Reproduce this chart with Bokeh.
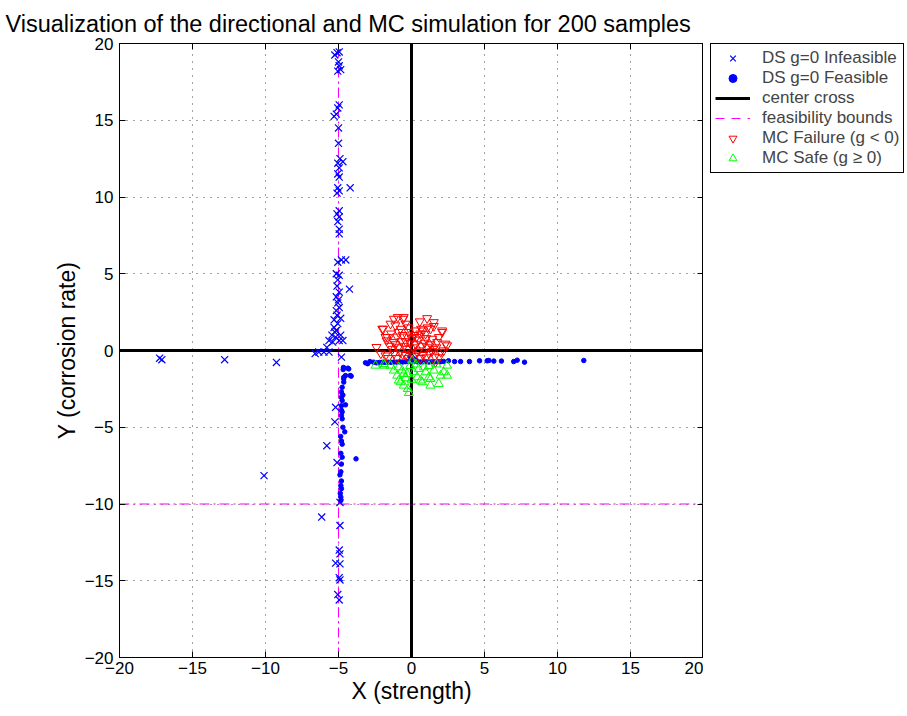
from bokeh.plotting import figure
from bokeh.layouts import row
from bokeh.models import Legend, LegendItem, FixedTicker, LinearAxis, Range1d
from bokeh.embed import file_html
from bokeh.resources import INLINE

# ---- data ----
ds_inf_x = [-5.1, -4.95, -5.25, -5.0, -4.95, -4.85, -5.05,
            -4.95, -5.05, -5.15, -5.3, -5.0, -5.0, -4.9, -4.7, -5.05, -4.95, -5.05, -4.95, -5.05, -4.95, -5.1, -4.2,
            -4.95, -5.1, -4.95, -5.05, -4.95, -4.95,
            -5.05, -4.8, -4.5, -4.25,
            -5.15, -4.95, -5.05, -5.1, -4.95, -5.15, -5.05, -4.95, -5.15, -5.1, -5.3, -5.05, -5.3, -5.15, -5.45, -5.2,
            -4.95, -5.65, -5.4, -4.7, -5.8, -6.35, -6.0, -5.65, -6.6, -4.8, -5.0, -4.85, -5.25, -4.85,
            -17.1, -17.25, -12.8, -9.25,
            -5.2, -5.25, -5.8, -5.1, -4.9, -10.1, -6.15, -4.9, -4.95, -4.9, -5.2, -4.9, -4.95, -4.9, -5.05, -4.95]
ds_inf_y = [19.4, 19.45, 19.25, 18.8, 18.55, 18.3, 18.2,
            16.0, 15.8, 15.4, 15.25, 14.5, 13.5, 12.5, 12.3, 12.2, 11.9, 11.5, 11.3, 10.6, 10.4, 10.25, 10.6,
            9.1, 8.9, 8.7, 8.4, 7.9, 7.6,
            5.75, 5.9, 5.9, 4.0,
            5.0, 4.9, 4.6, 4.2, 3.8, 3.5, 3.1, 2.8, 2.6, 2.3, 2.0, 1.75, 1.5, 1.3, 1.0, 0.87,
            0.65, 0.65, 0.55, 0.65, 0.2, -0.1, -0.1, -0.1, -0.2, -0.43, 3.3, 2.1, 1.2, 1.0,
            -0.6, -0.5, -0.6, -0.78,
            -3.7, -4.65, -6.2, -7.3, -9.9, -8.15, -10.85, -11.4, -13.0, -13.25, -13.85, -13.9, -14.8, -14.95, -15.9, -16.25]

ds_fea_x = [-4.68, -4.36, -4.52, -4.64, -4.64, -4.13, -4.75, -4.8, -4.8, -4.75, -4.52, -4.8, -4.8, -4.75, -4.57,
            -4.8, -4.75, -4.84, -4.75, -4.8, -3.8, -4.84, -4.8, -4.84, -4.88, -4.84, -4.84, -4.66, -4.3, -4.2,
            -4.64, -4.7, -4.85, -4.9, -4.8, -4.7, -4.8, -4.75,
            -3.15, -2.85, -3.0, -2.6, -2.4, -2.2, -2.0, -1.8, -1.6, -1.4, -1.2, -1.0, -0.8, -0.6, -0.4, -0.2,
            0.0, 0.2, 0.4, 0.6, 0.8, 1.0, 1.2, 1.4, 1.6, 1.8, 2.0, 2.2, 2.53, 2.95, 3.36, 3.97, 4.66, 5.18,
            5.3, 5.64, 6.16, 7.0, 7.24, 7.74, 11.8, 0.1, -0.1, 0.3]
ds_fea_y = [-1.24, -1.15, -1.63, -1.85, -2.06, -1.67, -2.4, -2.7, -3.04, -3.26, -3.54, -3.9, -4.23, -4.45, -5.3,
            -5.9, -6.1, -6.7, -6.95, -7.4, -7.06, -7.9, -8.5, -8.8, -9.3, -9.55, -9.77, -1.1, -1.2, -1.63,
            -1.74, -5.0, -5.6, -8.1, -9.0, -2.9, -3.6, -4.0,
            -0.8, -0.72, -0.86, -0.76, -0.8, -0.78, -0.77, -0.78, -0.76, -0.77, -0.75, -0.76, -0.74, -0.75, -0.73, -0.72,
            -0.7, -0.72, -0.74, -0.75, -0.73, -0.74, -0.75, -0.73, -0.74, -0.72, -0.73, -0.71, -0.67, -0.72, -0.72, -0.72, -0.67, -0.67,
            -0.65, -0.69, -0.69, -0.72, -0.63, -0.76, -0.65, -0.5, -0.4, -0.6]

mc_fail_x = [-1.94, -1.21, -0.94, -0.57, -1.44, -1.1, -0.75, -0.41, -1.66, -1.71, -1.21, 0.57, 1.07, 0.66, 1.3, 1.53,
             2.1, 1.87, 2.33, 0.34, 0.96, 1.42, 1.76, -2.0, -1.78, -2.4, -1.78, 2.1, 2.44, 1.53, -0.53, 1.64,
             -1.5, -1.3, -1.1, -0.9, -0.7, -0.5, -0.3, -0.1, 0.1, 0.3, 0.5, 0.7, 0.9, 1.1, 1.3, 1.5, 1.7,
             -1.2, -0.8, -0.4, 0.0, 0.4, 0.8, 1.2, 1.6, 2.0, -1.6, -1.0, -0.2, 0.6, 1.0, 1.9,
             -0.6, -0.2, 0.2, 0.6, 1.0, -1.0, -1.4, 0.0, -0.9, -0.3, 0.5, 1.4, -2.1, -0.6, 0.2, 2.2,
             -0.4, 0.8, -0.2, 0.3, 1.1]
mc_fail_y = [1.41, 2.06, 2.17, 2.06, 1.74, 1.63, 1.41, 1.74, 0.87, 0.65, 0.54, 1.89, 2.1, 1.41, 1.41, 1.59,
             1.3, 0.87, 0.44, 0.87, 1.09, 0.76, 0.54, 1.41, 0.87, 0.22, -0.33, 1.2, 0.33, 1.84, 2.17, -0.76,
             0.3, 0.1, 0.4, 0.2, 0.6, 0.3, 0.9, 0.5, 0.2, 0.4, 0.7, 0.3, 0.5, 0.2, 0.4, 0.1, 0.2,
             -0.2, -0.1, -0.3, -0.2, -0.1, -0.3, -0.2, -0.4, -0.1, -0.5, -0.5, -0.5, -0.5, -0.45, -0.45,
             1.0, 1.2, 1.0, 1.1, 0.8, 0.9, 1.1, 0.8, 1.2, 0.1, 0.0, -0.05, -0.2, -0.25, -0.35, 0.0,
             0.6, 1.3, 1.5, 1.3, 1.5]

mc_safe_x = [-1.9, -1.44, -0.87, -0.98, -0.64, -0.3, -0.75, -0.53, -0.18, 0.05, 0.16, 0.39, 0.73, 0.5, 0.96,
             1.19, 1.3, 1.53, 1.87, 2.21, 2.44, 2.44, 1.99, 0.84, -1.21, -2.47, -1.85, -0.25, -0.87, -0.53,
             0.62, 1.3, -0.1, 0.3, 1.2, 1.7, -0.4, 0.0]
mc_safe_y = [-0.87, -0.98, -1.09, -1.63, -1.3, -1.52, -2.06, -2.28, -2.76, -0.65, -1.41, -1.74, -2.06, -1.2, -1.41,
             -1.74, -2.28, -1.3, -2.17, -1.41, -0.98, -1.63, -1.63, -1.09, -1.3, -0.98, -0.98, -2.5, -1.95, -1.52,
             -1.95, -1.85, -1.0, -0.9, -1.0, -0.9, -1.8, -1.9]

axis_lim = [-20, 20]
tick_vals = [-20, -15, -10, -5, 0, 5, 10, 15, 20]
tick_labels = ["\u221220", "\u221215", "\u221210", "\u22125", "0", "5", "10", "15", "20"]
bound_x = -5
bound_y = -10

title_text = "Visualization of the directional and MC simulation for 200 samples"
legend_labels = ["DS g=0 Infeasible", "DS g=0 Feasible", "center cross", "feasibility bounds",
                 "MC Failure (g < 0)", "MC Safe (g \u2265 0)"]

FONT = "Liberation Sans"

# ---- styles ----
INF = dict(marker="x", size=10, line_color="#0000ff", line_width=1.2)
FEA = dict(marker="circle", size=4.5, fill_color="#0000ff", line_color="#0000ff")
FAIL = dict(marker="inverted_triangle", size=9, fill_color=None, line_color="#ff0000", line_width=1)
SAFE = dict(marker="triangle", size=9, fill_color=None, line_color="#00ff00", line_width=1)
CROSS = dict(line_color="black", line_width=3)
BOUND = dict(line_color="#ff00ff", line_width=1)

# ---- main axes ----
p = figure(frame_width=584, frame_height=614,
           x_range=Range1d(*axis_lim), y_range=Range1d(*axis_lim),
           output_backend="svg", toolbar_location=None, title=title_text,
           min_border_left=119, min_border_right=0, min_border_top=43, min_border_bottom=53)
p.title.text_font = FONT
p.title.text_font_size = "23.5px"
p.title.text_font_style = "normal"
p.title.text_color = "black"
p.title.offset = -114
p.title.standoff = 13

p.xaxis.axis_label = "X (strength)"
p.yaxis.axis_label = "Y (corrosion rate)"
overrides = {v: s for v, s in zip(tick_vals, tick_labels)}
for ax in (p.xaxis[0], p.yaxis[0]):
    ax.ticker = FixedTicker(ticks=tick_vals)
    ax.major_label_overrides = overrides
    ax.axis_label_text_font = FONT
    ax.axis_label_text_font_size = "23px"
    ax.axis_label_text_font_style = "normal"
    ax.axis_label_text_color = "black"
    ax.major_label_text_font = FONT
    ax.major_label_text_font_size = "17px"
    ax.major_label_text_color = "black"
    ax.major_tick_in = 6
    ax.major_tick_out = 0
    ax.minor_tick_line_color = None
    ax.axis_line_color = "black"
    ax.major_tick_line_color = "black"
p.xaxis.major_label_standoff = 4
p.xaxis.axis_label_standoff = 1
p.yaxis.major_label_standoff = 6
p.yaxis.axis_label_standoff = 2

blank = {v: "" for v in tick_vals}
for loc in ("above", "right"):
    ax = LinearAxis(ticker=FixedTicker(ticks=tick_vals), major_label_overrides=blank,
                    major_tick_in=6, major_tick_out=0, minor_tick_line_color=None,
                    axis_line_color="black", major_label_standoff=0)
    p.add_layout(ax, loc)

p.grid.ticker = FixedTicker(ticks=tick_vals)
p.grid.grid_line_color = "#444444"
p.grid.grid_line_dash = "1 6"
p.grid.grid_line_width = 1
p.outline_line_color = "black"
p.background_fill_color = "white"
p.border_fill_color = "white"

# feasibility bounds and center cross
p.line([bound_x, bound_x], axis_lim, line_dash="10 4 2 4", **BOUND)
p.line(axis_lim, [bound_y, bound_y], line_dash="10 4 2 4", **BOUND)
p.line(axis_lim, [0, 0], **CROSS)
p.line([0, 0], axis_lim, **CROSS)

p.scatter(ds_inf_x, ds_inf_y, **INF)
p.scatter(ds_fea_x, ds_fea_y, **FEA)
p.scatter(mc_fail_x, mc_fail_y, **FAIL)
p.scatter(mc_safe_x, mc_safe_y, **SAFE)

# ---- legend panel (separate figure; proxy glyphs lie outside its range, so only the legend shows) ----
q = figure(width=204, height=710, x_range=Range1d(100, 101), y_range=Range1d(100, 101),
           output_backend="svg", toolbar_location=None,
           min_border_left=7, min_border_right=0, min_border_top=43, min_border_bottom=0)
q.axis.visible = False
q.grid.visible = False
q.outline_line_color = None
q.background_fill_color = "white"
q.border_fill_color = "white"

g_inf = q.scatter(ds_inf_x[:1], ds_inf_y[:1], **INF)
g_fea = q.scatter(ds_fea_x[:1], ds_fea_y[:1], **FEA)
g_cross = q.line(axis_lim, [0, 0], **CROSS)
g_bnd = q.line(axis_lim, [bound_y, bound_y], line_dash="9 7", **BOUND)
g_fail = q.scatter(mc_fail_x[:1], mc_fail_y[:1], **FAIL)
g_safe = q.scatter(mc_safe_x[:1], mc_safe_y[:1], **SAFE)

legend = Legend(items=[LegendItem(label=lab, renderers=[r]) for lab, r in
                       zip(legend_labels, [g_inf, g_fea, g_cross, g_bnd, g_fail, g_safe])],
                location="top_left")
legend.label_text_font = FONT
legend.label_text_font_size = "17px"
legend.label_height = 20
legend.glyph_height = 20
legend.glyph_width = 35
legend.label_standoff = 12
legend.spacing = 0
legend.padding = 4
legend.margin = 0
legend.border_line_color = "black"
legend.border_line_alpha = 1
legend.border_line_width = 1
legend.background_fill_alpha = 1
q.add_layout(legend, "center")

layout = row(p, q)
open("out.html", "w").write(file_html(layout, INLINE))
